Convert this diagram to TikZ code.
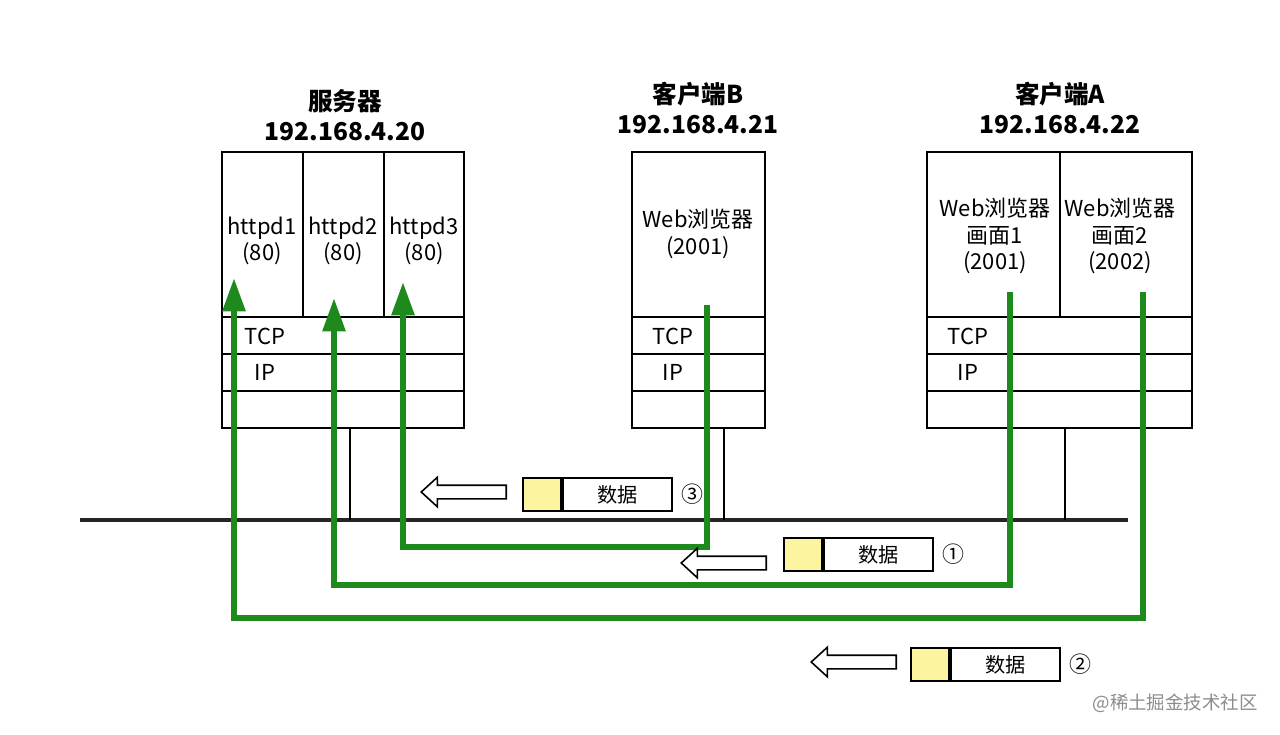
\documentclass[tikz,border=0pt]{standalone}
\usepackage{fontspec}
\setmainfont{Noto Sans CJK SC}
\usepackage{tikz}
\usetikzlibrary{arrows.meta,shapes.arrows}

\definecolor{flowgreen}{RGB}{30,138,30}
\definecolor{hdryellow}{RGB}{252,244,158}

\begin{document}
\begin{tikzpicture}[x=0.02cm, y=-0.02cm,
    layer/.style={draw, line width=1.1pt},
    lbl/.style={font=\fontsize{12.5}{15}\selectfont, align=center, inner sep=0pt},
    hostname/.style={font=\bfseries\fontsize{14}{17}\selectfont, align=center, inner sep=0pt},
    flow/.style={draw=flowgreen, line width=3.4pt, -{Triangle[width=12.5pt, length=19pt]}},
    plain/.style={draw=flowgreen, line width=3.4pt},
    hdr/.style={draw, line width=1.1pt, fill=hdryellow, minimum width=0.76cm, minimum height=0.66cm, inner sep=0pt},
    payload/.style={draw, line width=1.1pt, fill=white, minimum width=2.18cm, minimum height=0.66cm, inner sep=0pt,
        font=\fontsize{11.5}{13}\selectfont},
    hollow/.style={draw, line width=0.9pt, fill=white, single arrow, shape border rotate=180,
        minimum height=1.7cm, inner sep=0.12cm, single arrow head extend=0.16cm, single arrow tip angle=85}]
    \useasboundingbox (0,0) rectangle (1280,734);

    % host names
    \node[hostname] (srv) at (345,115) {服务器\\192.168.4.20};
    \node[hostname] (cliB) at (698,108) {客户端B\\192.168.4.21};
    \node[hostname] (cliA) at (1060,108) {客户端A\\192.168.4.22};

    % server stack
    \draw[layer] (222,152) rectangle (464,428);
    \draw[layer] (303,152) -- (303,317) (384,152) -- (384,317);
    \foreach \y in {317,354,391} \draw[layer] (222,\y) -- (464,\y);
    \node[lbl] (httpd1) at (262,241) {httpd1\\(80)};
    \node[lbl] (httpd2) at (343,241) {httpd2\\(80)};
    \node[lbl] (httpd3) at (424,241) {httpd3\\(80)};
    \node[lbl] (srv-tcp) at (265,336) {TCP};
    \node[lbl] (srv-ip) at (265,372) {IP};

    % client B stack
    \draw[layer] (632,152) rectangle (765,428);
    \foreach \y in {317,354,391} \draw[layer] (632,\y) -- (765,\y);
    \node[lbl] (browserB) at (698,234) {Web浏览器\\(2001)};
    \node[lbl] (b-tcp) at (673,336) {TCP};
    \node[lbl] (b-ip) at (673,372) {IP};

    % client A stack
    \draw[layer] (927,152) rectangle (1192,428);
    \draw[layer] (1060,152) -- (1060,317);
    \foreach \y in {317,354,391} \draw[layer] (927,\y) -- (1192,\y);
    \node[lbl] (tab1) at (995,236) {Web浏览器\\画面1\\(2001)};
    \node[lbl] (tab2) at (1120,236) {Web浏览器\\画面2\\(2002)};
    \node[lbl] (a-tcp) at (968,336) {TCP};
    \node[lbl] (a-ip) at (968,372) {IP};

    % network
    \coordinate (lan-w) at (80,520);
    \coordinate (lan-e) at (1128,520);
    \draw[line width=2.3pt, black!85] (lan-w) -- (lan-e);
    \coordinate (srv-port) at (350,428);
    \coordinate (b-port) at (724,428);
    \coordinate (a-port) at (1065,428);
    \foreach \p in {srv-port,b-port,a-port}
        \draw[layer] (\p) -- (\p |- lan-w);

    % data flows
    \coordinate (b-app) at (707,305);
    \coordinate (tab1-app) at (1010,292);
    \coordinate (tab2-app) at (1143,292);
    \coordinate (httpd1-in) at (234,278);
    \coordinate (httpd2-in) at (334,298);
    \coordinate (httpd3-in) at (403,282);
    \draw[flow] (b-app) -- ++(0,242) -| (httpd3-in);
    \draw[flow] (tab1-app) -- ++(0,293) -| (httpd2-in);
    \draw[flow] (tab2-app) -- ++(0,326) -| (httpd1-in);

    % packets
    \foreach \n/\x/\y/\c/\ax/\ay in {3/522/477/③/507/492, 1/783/537/①/767/563, 2/910/647/②/897/662} {
        \node[hdr, anchor=north west] (hdr\n) at (\x,\y) {};
        \node[payload, anchor=west] (data\n) at (hdr\n.east) {数据};
        \node[lbl, anchor=west, right=0.16cm] (num\n) at (data\n.east) {\c};
        \node[hollow, anchor=east] (dir\n) at (\ax,\ay) {};
    }

    \node[font=\fontsize{10.5}{12}\selectfont, text=black!45, anchor=east, inner sep=0pt] (mark) at (1258,703) {@稀土掘金技术社区};
\end{tikzpicture}
\end{document}
